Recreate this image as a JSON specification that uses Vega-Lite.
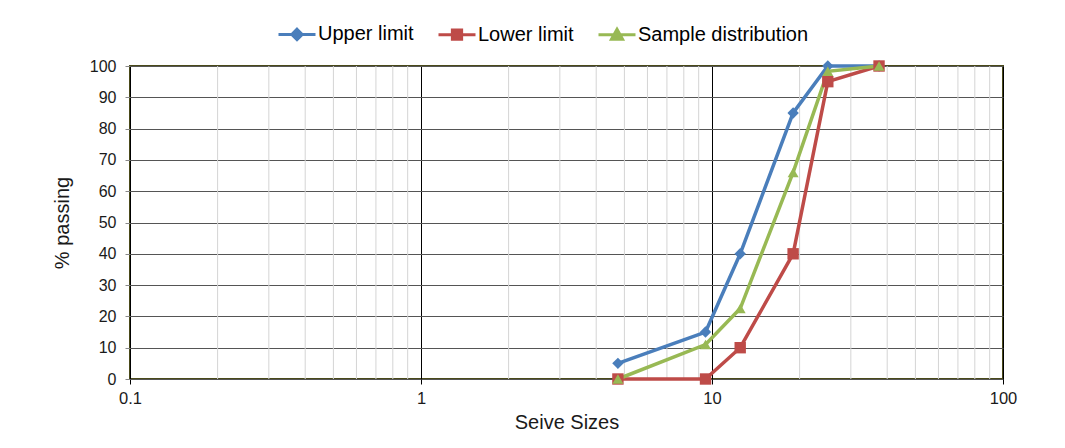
{
  "$schema": "https://vega.github.io/schema/vega-lite/v6.json",
  "width": 873,
  "height": 313,
  "autosize": "none",
  "padding": {"left": 130, "top": 66, "right": 62, "bottom": 69},
  "background": "#ffffff",
  "config": {
    "view": {"stroke": "#4a4a1a", "strokeWidth": 2},
    "font": "Liberation Sans"
  },
  "datasets": {
    "grades": [
      {"size": 4.75, "series": "Upper limit", "passing": 5},
      {"size": 9.5, "series": "Upper limit", "passing": 15},
      {"size": 12.5, "series": "Upper limit", "passing": 40},
      {"size": 19, "series": "Upper limit", "passing": 85},
      {"size": 25, "series": "Upper limit", "passing": 100},
      {"size": 37.5, "series": "Upper limit", "passing": 100},
      {"size": 4.75, "series": "Lower limit", "passing": 0},
      {"size": 9.5, "series": "Lower limit", "passing": 0},
      {"size": 12.5, "series": "Lower limit", "passing": 10},
      {"size": 19, "series": "Lower limit", "passing": 40},
      {"size": 25, "series": "Lower limit", "passing": 95},
      {"size": 37.5, "series": "Lower limit", "passing": 100},
      {"size": 4.75, "series": "Sample distribution", "passing": 0},
      {"size": 9.5, "series": "Sample distribution", "passing": 11},
      {"size": 12.5, "series": "Sample distribution", "passing": 22.5},
      {"size": 19, "series": "Sample distribution", "passing": 66},
      {"size": 25, "series": "Sample distribution", "passing": 98.3},
      {"size": 37.5, "series": "Sample distribution", "passing": 100}
    ],
    "minor": [
      {"size": 0.2}, {"size": 0.3}, {"size": 0.4}, {"size": 0.5}, {"size": 0.6}, {"size": 0.7}, {"size": 0.8}, {"size": 0.9},
      {"size": 2}, {"size": 3}, {"size": 4}, {"size": 5}, {"size": 6}, {"size": 7}, {"size": 8}, {"size": 9},
      {"size": 20}, {"size": 30}, {"size": 40}, {"size": 50}, {"size": 60}, {"size": 70}, {"size": 80}, {"size": 90}
    ]
  },
  "encoding": {
    "x": {
      "field": "size",
      "type": "quantitative",
      "scale": {"type": "log", "domain": [0.1, 100]},
      "axis": {
        "values": [0.1, 1, 10, 100],
        "format": "~g",
        "grid": true,
        "gridColor": "#000000",
        "gridWidth": 1,
        "domain": false,
        "ticks": true,
        "tickSize": 5,
        "tickColor": "#000000",
        "labelPadding": 6,
        "labelFontSize": 16.5,
        "labelColor": "#1a1a1a",
        "labelFlush": false,
        "labelOverlap": false,
        "title": "Seive Sizes",
        "titleFontSize": 20,
        "titleFontWeight": "normal",
        "titleColor": "#1a1a1a",
        "titlePadding": 6
      }
    }
  },
  "layer": [
    {
      "data": {"name": "minor"},
      "mark": {"type": "rule", "color": "#d4d4d4", "strokeWidth": 1},
      "encoding": {}
    },
    {
      "data": {"name": "grades"},
      "encoding": {
        "y": {
          "field": "passing",
          "type": "quantitative",
          "scale": {"domain": [0, 100]},
          "axis": {
            "values": [0, 10, 20, 30, 40, 50, 60, 70, 80, 90, 100],
            "grid": true,
            "gridColor": "#555555",
            "gridWidth": 1,
            "domain": false,
            "tickSize": 5,
            "tickColor": "#888888",
            "labelPadding": 9,
            "labelFontSize": 16,
            "labelColor": "#1a1a1a",
            "labelFlush": false,
            "labelOverlap": false,
            "title": "% passing",
            "titleFontSize": 20,
            "titleFontWeight": "normal",
            "titleColor": "#1a1a1a",
            "titlePadding": 17
          }
        },
        "color": {
          "field": "series",
          "type": "nominal",
          "scale": {
            "domain": ["Upper limit", "Lower limit", "Sample distribution"],
            "range": ["#4a7ebb", "#be4b48", "#98b954"]
          },
          "legend": {
            "title": null,
            "orient": "none",
            "direction": "horizontal",
            "legendX": 147,
            "legendY": -52,
            "labelFontSize": 20,
            "labelLimit": 400,
            "labelColor": "#000000",
            "labelOffset": 1,
            "columnPadding": 18,
            "symbolSize": 1369,
            "symbolStrokeWidth": 3,
            "symbolOpacity": 1,
            "encode": {
              "symbols": {
                "update": {
                  "shape": {"signal": "datum.value === 'Upper limit' ? 'M-1,0H1M0,-0.28L0.28,0L0,0.28L-0.28,0Z' : (datum.value === 'Lower limit' ? 'M-1,0H1M-0.25,-0.25H0.25V0.25H-0.25Z' : 'M-1,0H1M0,-0.3L0.3,0.24H-0.3Z')"},
                  "fill": {"scale": "color", "field": "value"},
                  "stroke": {"scale": "color", "field": "value"},
                  "strokeWidth": {"value": 3}
                }
              }
            }
          }
        }
      },
      "layer": [
        {"mark": {"type": "line", "strokeWidth": 3.5}},
        {
          "transform": [{"filter": "datum.series === 'Upper limit'"}],
          "mark": {"type": "point", "shape": "diamond", "filled": true, "opacity": 1, "size": 130}
        },
        {
          "transform": [{"filter": "datum.series === 'Lower limit'"}],
          "mark": {"type": "point", "shape": "square", "filled": true, "opacity": 1, "size": 130}
        },
        {
          "transform": [{"filter": "datum.series === 'Sample distribution'"}],
          "mark": {"type": "point", "shape": "triangle-up", "filled": true, "opacity": 1, "size": 120}
        }
      ]
    }
  ]
}
